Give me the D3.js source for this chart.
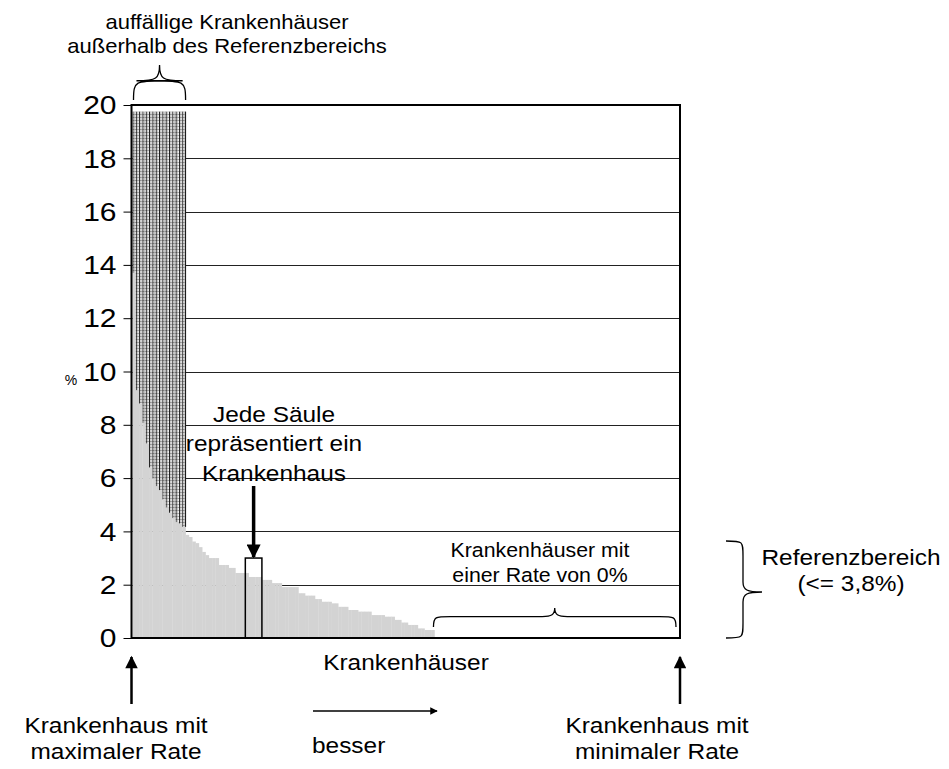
<!DOCTYPE html>
<html>
<head>
<meta charset="utf-8">
<script src="https://cdn.jsdelivr.net/npm/d3@7"></script>
<style>
  html, body { margin: 0; padding: 0; background: #fff; }
  svg { display: block; font-family: "Liberation Sans", Arial, sans-serif; }
</style>
</head>
<body>
<svg id="chart" width="949" height="769"></svg>
<script>
// ---- data ----
const rates = [13.7, 9.3, 8.8, 8.07, 7.3, 6.4, 6.0, 5.7, 5.55, 5.2, 4.9, 4.7, 4.5, 4.35, 4.3, 4.17,
  3.87, 3.79, 3.62, 3.56, 3.41, 3.23, 3.11, 3.0, 3.0, 3.0, 2.74, 2.74, 2.74, 2.63, 2.63,
  2.44, 2.44, 2.44, 2.44, 2.29, 2.29, 2.29, 2.29, 2.18, 2.18, 2.18, 2.06, 2.06, 2.06,
  1.91, 1.91, 1.91, 1.91, 1.91, 1.68, 1.68, 1.59, 1.59, 1.59, 1.46, 1.46, 1.36, 1.36, 1.36,
  1.30, 1.30, 1.17, 1.17, 1.17, 1.05, 1.05, 1.05, 0.99, 0.99, 0.99, 0.99, 0.86, 0.86, 0.86, 0.86,
  0.80, 0.80, 0.80, 0.68, 0.68, 0.58, 0.58, 0.49, 0.49, 0.49, 0.36, 0.36, 0.30, 0.30, 0.30];
const zeroCount = 74;                 // hospitals with a rate of 0 %
const outlierCount = 16;              // conspicuous hospitals (hatched)
const hatchTop = 19.75;
const yTicks = [0, 2, 4, 6, 8, 10, 12, 14, 16, 18, 20];
const exampleBar = { from: 34, to: 39, value: 3.0 };
const referenceLimit = 3.8;

(function () {
const values = rates.concat(new Array(zeroCount).fill(0));
const N = values.length;

// ---- layout ----
const svg = d3.select("#chart");
const pL = 131.5, pR = 680, pT = 105, pB = 638;
const x = d3.scaleLinear().domain([0, N]).range([pL + 1, pR]);
const y = d3.scaleLinear().domain([0, 20]).range([pB, pT]);
const bw = x(1) - x(0);

// pattern for hatched outliers
const defs = svg.append("defs");
const pat = defs.append("pattern").attr("id", "hatch")
  .attr("patternUnits", "userSpaceOnUse")
  .attr("x", x(0)).attr("y", 0)
  .attr("width", bw).attr("height", 3);
pat.append("rect").attr("width", bw).attr("height", 3).attr("fill", "#fff");
pat.append("rect").attr("x", 0).attr("y", 0).attr("width", bw).attr("height", 1).attr("fill", "#aaa");
pat.append("rect").attr("x", 0).attr("y", 0).attr("width", 1).attr("height", 3).attr("fill", "#111");
pat.append("rect").attr("x", 2).attr("y", 0).attr("width", 0.6).attr("height", 3).attr("fill", "#999");

// gridlines
svg.append("g").selectAll("line").data(yTicks.filter(t => t > 0 && t < 20)).join("line")
  .attr("x1", pL).attr("x2", pR)
  .attr("y1", d => Math.round(y(d)) + 0.5).attr("y2", d => Math.round(y(d)) + 0.5)
  .attr("stroke", "#222").attr("stroke-width", 1);

// gray bars
svg.append("g").selectAll("rect").data(values).join("rect")
  .attr("x", (d, i) => x(i)).attr("width", bw + 0.3)
  .attr("y", d => y(d)).attr("height", d => y(0) - y(d))
  .attr("fill", "#d3d3d3");

// hatched area above outliers
svg.append("g").selectAll("rect").data(values.slice(0, outlierCount)).join("rect")
  .attr("x", (d, i) => x(i)).attr("width", bw + 0.2)
  .attr("y", y(hatchTop)).attr("height", d => y(d) - y(hatchTop))
  .attr("fill", "url(#hatch)");
svg.append("line")
  .attr("x1", x(outlierCount)).attr("x2", x(outlierCount))
  .attr("y1", y(hatchTop)).attr("y2", y(values[outlierCount - 1]))
  .attr("stroke", "#111").attr("stroke-width", 1);

// frame
svg.append("rect").attr("x", pL).attr("y", pT)
  .attr("width", pR - pL).attr("height", pB - pT)
  .attr("fill", "none").attr("stroke", "#000").attr("stroke-width", 2);

// y axis
const yAxis = d3.axisLeft(y).tickValues(yTicks).tickSize(8).tickPadding(0).tickFormat(d3.format("d"));
const ga = svg.append("g").attr("transform", `translate(${pL},0)`).call(yAxis);
ga.select(".domain").remove();
ga.selectAll(".tick line").attr("stroke", "#000").attr("stroke-width", 1);
ga.selectAll(".tick text").attr("font-size", 25).attr("fill", "#000")
  .attr("font-family", "Liberation Sans, Arial, sans-serif")
  .attr("x", 0).attr("dy", "0.35em")
  .attr("transform", `translate(-15,0) scale(1.2,1)`);

svg.append("text").attr("x", 71).attr("y", 385).attr("text-anchor", "middle")
  .attr("font-size", 14).text("%");

// example bar box
svg.append("rect")
  .attr("x", x(exampleBar.from)).attr("width", x(exampleBar.to) - x(exampleBar.from))
  .attr("y", y(exampleBar.value)).attr("height", y(0) - y(exampleBar.value))
  .attr("fill", "none").attr("stroke", "#000").attr("stroke-width", 1.5);

defs.append("marker").attr("id", "arr").attr("viewBox", "0 0 10 10")
  .attr("refX", 9).attr("refY", 5).attr("markerWidth", 4).attr("markerHeight", 4)
  .attr("markerUnits", "strokeWidth").attr("orient", "auto")
  .append("path").attr("d", "M0,0 L10,5 L0,10 z").attr("fill", "#000");
defs.append("marker").attr("id", "arr2").attr("viewBox", "0 0 10 10")
  .attr("refX", 9).attr("refY", 5).attr("markerWidth", 6).attr("markerHeight", 5)
  .attr("markerUnits", "strokeWidth").attr("orient", "auto")
  .append("path").attr("d", "M0,0 L10,5 L0,10 z").attr("fill", "#000");

const cx = (x(exampleBar.from) + x(exampleBar.to)) / 2;
svg.append("line").attr("x1", cx).attr("x2", cx).attr("y1", 486).attr("y2", y(exampleBar.value) - 1)
  .attr("stroke", "#000").attr("stroke-width", 3.5).attr("marker-end", "url(#arr)");

// text helper
function lines(arr, xx, ys, size, sx, anchor) {
  arr.forEach((t, k) => svg.append("text")
    .attr("transform", `translate(${xx},${ys[k]}) scale(${sx},1)`)
    .attr("text-anchor", anchor || "middle").attr("font-size", size).attr("fill", "#000").text(t));
}
lines(["auffällige Krankenhäuser", "außerhalb des Referenzbereichs"], 227, [29, 53], 20.5, 1.075);
lines(["Jede Säule", "repräsentiert ein", "Krankenhaus"], 274, [422, 451, 481], 22, 1.11);
lines(["Krankenhäuser mit", "einer Rate von 0%"], 540, [557, 582], 20.5, 1.04);
lines(["Referenzbereich", "(<= " + String(referenceLimit).replace(".", ",") + "%)"], 851, [565, 591], 22, 1.11);
lines(["Krankenhäuser"], 406, [670], 22, 1.11);
lines(["Krankenhaus mit", "maximaler Rate"], 116, [733, 759], 22, 1.11);
lines(["Krankenhaus mit", "minimaler Rate"], 657, [733, 759], 22, 1.11);
lines(["besser"], 312, [753], 22, 1.11, "start");

// braces
function hBrace(x1, x2, yBase, h) {
  const m = (x1 + x2) / 2, r = h * 0.55;
  const yMid = yBase - r;
  return `M${x1},${yBase} C${x1},${yMid} ${x1 + 2},${yMid} ${x1 + r * 1.6},${yMid} ` +
         `L${m - r * 1.2},${yMid} C${m - 3},${yMid} ${m},${yMid - 2} ${m},${yBase - h} ` +
         `C${m},${yMid - 2} ${m + 3},${yMid} ${m + r * 1.2},${yMid} ` +
         `L${x2 - r * 1.6},${yMid} C${x2 - 2},${yMid} ${x2},${yMid} ${x2},${yBase}`;
}
svg.append("path").attr("d", hBrace(x(0) + 1, x(outlierCount), 100, 35))
  .attr("fill", "none").attr("stroke", "#000").attr("stroke-width", 1.3);
svg.append("path").attr("d", hBrace(x(rates.length) - 1, pR - 4, 627, 19))
  .attr("fill", "none").attr("stroke", "#000").attr("stroke-width", 1.3);

// right vertical brace
(function () {
  const x0 = 726, xm = 743, xt = 762, y1 = 541, y2 = 638, ym = 592;
  const d = `M${x0},${y1} C${xm},${y1} ${xm},${y1} ${xm},${y1 + 15} L${xm},${ym - 10} ` +
    `C${xm},${ym - 2} ${xm + 4},${ym} ${xt},${ym} C${xm + 4},${ym} ${xm},${ym + 2} ${xm},${ym + 10} ` +
    `L${xm},${y2 - 15} C${xm},${y2} ${xm},${y2} ${x0},${y2}`;
  svg.append("path").attr("d", d).attr("fill", "none").attr("stroke", "#000").attr("stroke-width", 1.3);
})();

// bottom arrows
[x(0) - 1, pR].forEach(xx => {
  svg.append("line").attr("x1", xx).attr("x2", xx).attr("y1", 704).attr("y2", 657)
    .attr("stroke", "#000").attr("stroke-width", 2.5).attr("marker-end", "url(#arr2)");
});
svg.append("line").attr("x1", 313).attr("x2", 437).attr("y1", 711).attr("y2", 711)
  .attr("stroke", "#000").attr("stroke-width", 1.5).attr("marker-end", "url(#arr2)");
})();
</script>
</body>
</html>
